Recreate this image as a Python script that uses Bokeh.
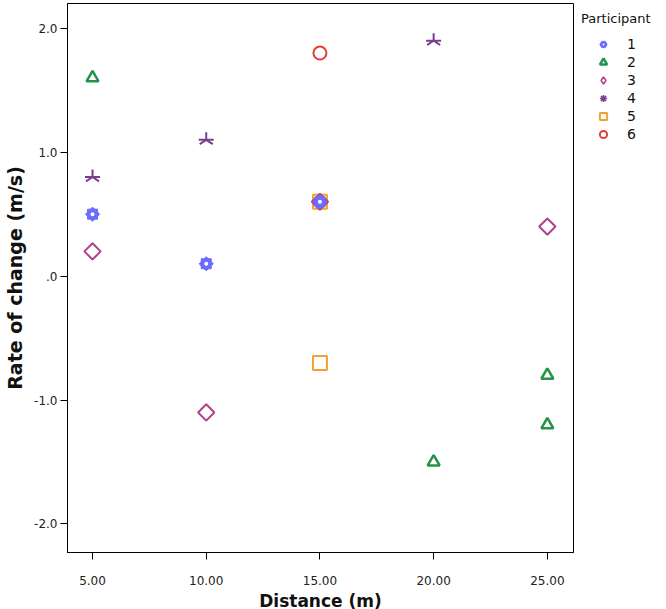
import numpy as np
from bokeh.plotting import figure
from bokeh.models import Legend, LegendItem, FixedTicker, Range1d
from bokeh.embed import file_html
from bokeh.resources import INLINE

# ---- data ----
participants = ["1", "2", "3", "4", "5", "6"]
p1_x = [5, 10, 15];        p1_y = [0.5, 0.1, 0.6]
p2_x = [5, 20, 25, 25];    p2_y = [1.6, -1.5, -0.8, -1.2]
p3_x = [5, 10, 15, 25];    p3_y = [0.2, -1.1, 0.6, 0.4]
p4_x = [5, 10, 20];        p4_y = [0.8, 1.1, 1.9]
p5_x = [15, 15];           p5_y = [0.6, -0.7]
p6_x = [15];               p6_y = [1.8]

x_ticks = [5, 10, 15, 20, 25]
x_tick_labels = ["5.00", "10.00", "15.00", "20.00", "25.00"]
y_ticks = [-2, -1, 0, 1, 2]
y_tick_labels = ["-2.0", "-1.0", ".0", "1.0", "2.0"]

colors = ["#6b6bff", "#23934a", "#b0428a", "#7a3d8e", "#f5a033", "#e0403c"]
FONT = "DejaVu Sans"

FW, FH = 506, 549
p = figure(frame_width=FW, frame_height=FH,
           x_range=Range1d(3.9, 26.15), y_range=Range1d(-2.23, 2.2),
           output_backend="svg", toolbar_location=None,
           min_border_left=67, min_border_right=85, min_border_top=3, min_border_bottom=50)
p.xgrid.visible = False
p.ygrid.visible = False
p.outline_line_color = "black"
p.outline_line_width = 1
p.background_fill_color = "white"
p.border_fill_color = "white"

for ax in (p.xaxis[0], p.yaxis[0]):
    ax.axis_line_color = "black"
    ax.major_tick_line_color = "black"
    ax.minor_tick_line_color = None
    ax.major_tick_in = 0
    ax.major_tick_out = 7
    ax.major_label_text_font = FONT
    ax.major_label_text_font_size = "12px"
    ax.major_label_text_color = "#222222"
    ax.axis_label_text_font = FONT
    ax.axis_label_text_font_style = "bold"
    ax.axis_label_text_color = "#111111"

p.xaxis.axis_label_text_font_size = "17px"
p.yaxis.axis_label_text_font_size = "19px"
p.xaxis.ticker = FixedTicker(ticks=x_ticks)
p.xaxis.major_label_overrides = {float(t): l for t, l in zip(x_ticks, x_tick_labels)}
p.yaxis.ticker = FixedTicker(ticks=y_ticks)
p.yaxis.major_label_overrides = {float(t): l for t, l in zip(y_ticks, y_tick_labels)}
p.xaxis.axis_label = "Distance (m)"
p.yaxis.axis_label = "Rate of change (m/s)"
p.xaxis.major_label_standoff = 16
p.yaxis.major_label_standoff = 3
p.xaxis.axis_label_standoff = 3
p.yaxis.axis_label_standoff = 5

# ---- marks (draw 6 .. 1 so that 1 is on top) ----
r6 = p.scatter(p6_x, p6_y, marker="circle", size=13, fill_color=None,
               line_color=colors[5], line_width=2)
r5 = p.scatter(p5_x, p5_y, marker="square", size=14, fill_color=None,
               line_color=colors[4], line_width=2)
p.scatter(p4_x, p4_y, marker="y", size=15, angle=np.pi,
          line_color=colors[3], line_width=2)
p.scatter(p4_x, p4_y, marker="dash", size=15,
          line_color=colors[3], line_width=2)
p.scatter(p3_x, p3_y, marker="square", size=11.5, angle=np.pi / 4,
          fill_color=None, line_color=colors[2], line_width=2)
r2 = p.scatter(p2_x, p2_y, marker="triangle", size=12, fill_color=None,
               line_color=colors[1], line_width=2.5)
p.scatter(p1_x, p1_y, marker="square", size=10, fill_color=colors[0],
          line_color=colors[0], line_width=1)
p.scatter(p1_x, p1_y, marker="square", size=10, angle=np.pi / 4,
          fill_color=colors[0], line_color=colors[0], line_width=1)
p.scatter(p1_x, p1_y, marker="circle", size=4, fill_color="white",
          line_color=None)

# legend-only proxies on the same data with zero size (legend glyphs ignore angle)
l1a = p.scatter(p1_x, p1_y, size=0, marker="hex", fill_color=colors[0],
                line_color=colors[0], line_width=1)
l1b = p.scatter(p1_x, p1_y, size=0, marker="dot", line_color="white",
                fill_color="white")
l3 = p.scatter(p3_x, p3_y, size=0, marker="diamond", fill_color=None,
               line_color=colors[2], line_width=1.6)
l4 = p.scatter(p4_x, p4_y, size=0, marker="asterisk", line_color=colors[3],
               line_width=1.6)

items = [
    LegendItem(label=participants[0], renderers=[l1a, l1b]),
    LegendItem(label=participants[1], renderers=[r2]),
    LegendItem(label=participants[2], renderers=[l3]),
    LegendItem(label=participants[3], renderers=[l4]),
    LegendItem(label=participants[4], renderers=[r5]),
    LegendItem(label=participants[5], renderers=[r6]),
]
legend = Legend(items=items, location="top_left", title="Participant",
                title_text_font=FONT, title_text_font_size="13px",
                title_text_font_style="normal", title_text_color="#111111",
                title_standoff=9,
                border_line_color=None, background_fill_alpha=0,
                label_text_font=FONT, label_text_font_size="14px",
                label_text_color="#111111",
                glyph_width=44, glyph_height=18, spacing=0, padding=0,
                margin=8, label_standoff=2, label_height=17)
p.add_layout(legend, "right")

open("out.html", "w").write(file_html(p, INLINE))
